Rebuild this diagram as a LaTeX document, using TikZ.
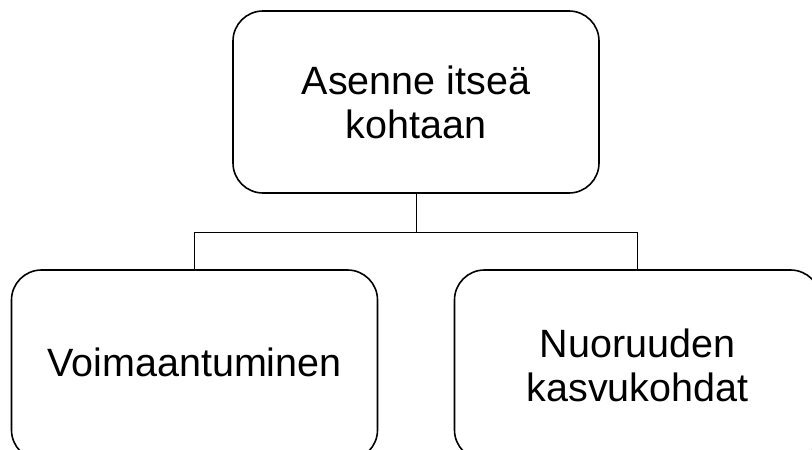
\documentclass[tikz,border=0pt]{standalone}
\usepackage{fontspec}
\setmainfont{Liberation Sans}
\begin{document}
\begin{tikzpicture}[x=1pt,y=-1pt,
  box/.style={draw=black, line width=1.6pt, rounded corners=30pt, fill=white,
    minimum width=366pt, inner sep=0pt, align=center,
    font=\fontsize{39.5pt}{44pt}\selectfont},
  conn/.style={draw=black, line width=1pt}]
\useasboundingbox[fill=white] (0,0) rectangle (812,450);
\node[box, minimum height=182pt] (top) at (416,102) {Asenne itseä\\kohtaan};
\node[box, minimum height=190pt] (left) at (194.5,365) {\raisebox{5pt}{Voimaantuminen}};
\node[box, minimum height=190pt] (right) at (637.5,365) {Nuoruuden\\kasvukohdat};
\coordinate (mid) at ([yshift=-39pt]top.south);
\draw[conn] (top.south) -- (mid) -| (left.north);
\draw[conn] (mid) -| (right.north);
\end{tikzpicture}
\end{document}
